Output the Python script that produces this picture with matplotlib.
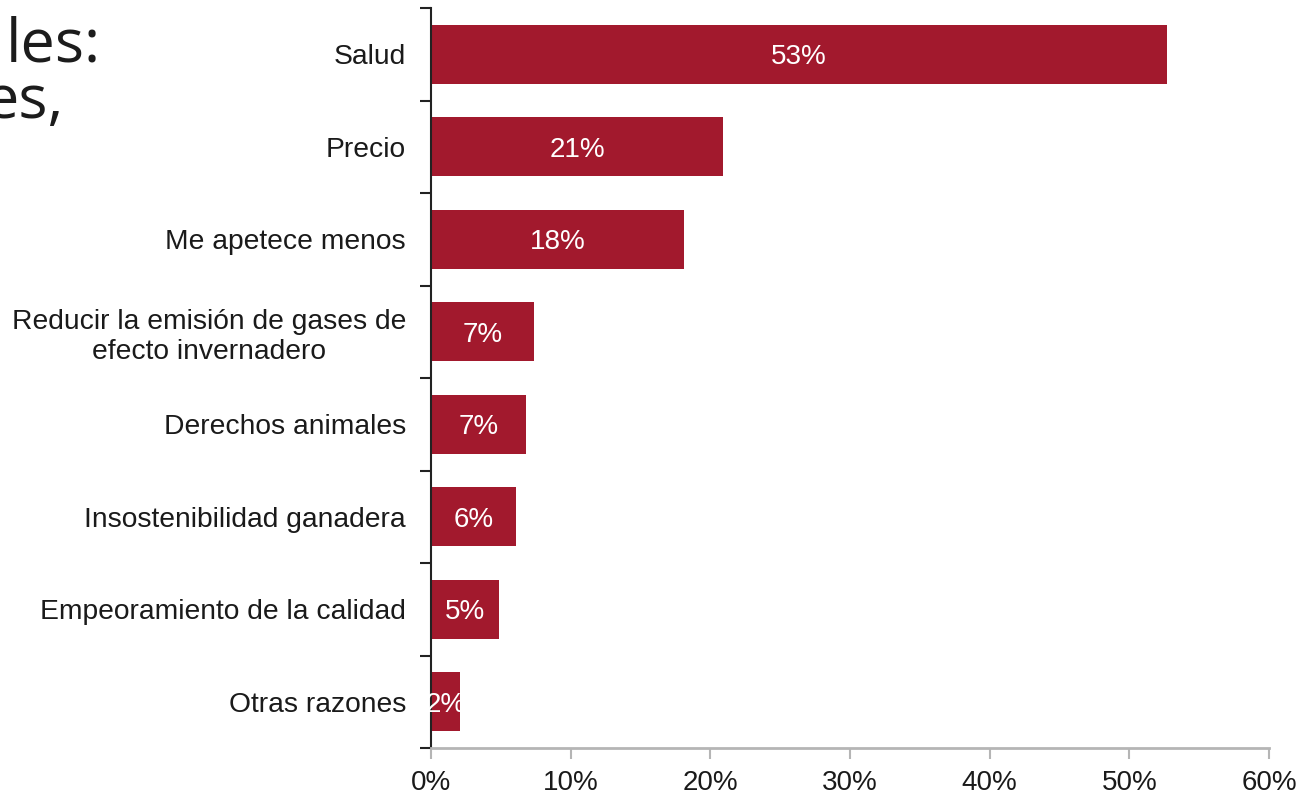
import matplotlib
matplotlib.use("Agg")
import matplotlib.pyplot as plt
import numpy as np

# Reasons for reducing meat consumption (% of respondents)
categories = [
    "Salud",
    "Precio",
    "Me apetece menos",
    "Reducir la emisión de gases de\nefecto invernadero",
    "Derechos animales",
    "Insostenibilidad ganadera",
    "Empeoramiento de la calidad",
    "Otras razones",
]
values = [52.7, 20.9, 18.1, 7.4, 6.8, 6.1, 4.9, 2.1]
x_ticks = [0, 10, 20, 30, 40, 50, 60]
x_tick_labels = ["0%", "10%", "20%", "30%", "40%", "50%", "60%"]
heading_lines = ["les:", "es,"]

BAR_COLOR = "#A2192D"
FONT = ["Liberation Sans", "DejaVu Sans"]

plt.rcParams["font.family"] = FONT

W, H = 1303, 794
fig = plt.figure(figsize=(W / 100, H / 100), dpi=100)
ax = fig.add_axes([431 / W, 1 - 748 / H, (1269 - 431) / W, (748 - 8) / H])

n = len(categories)
pos = np.arange(n)
bars = ax.barh(pos, values, height=0.64, color=BAR_COLOR, zorder=2)

# value labels, centred in each bar and clipped to it
for bar, v in zip(bars, values):
    cx = bar.get_x() + bar.get_width() / 2
    cy = bar.get_y() + bar.get_height() / 2
    t = ax.text(cx, cy, f"{v:.0f}%", ha="center", va="center_baseline",
                color="white", fontsize=20, zorder=3)
    t.set_clip_path(bar)

ax.set_xlim(0, 60)
ax.set_ylim(n - 0.5, -0.5)

# tick marks at category boundaries, names at bar centres
ax.set_yticks(np.arange(-0.5, n, 1.0))
ax.set_yticklabels([])
ax.tick_params(axis="y", which="major", length=8, width=1.5, color="#222222", direction="out")
ax.set_yticks(pos, minor=True)
ax.set_yticklabels(categories, minor=True, fontsize=20.3, color="#1a1a1a")
for lbl in ax.get_yticklabels(minor=True):
    lbl.set_horizontalalignment("right")
    lbl.set_multialignment("center")
ax.tick_params(axis="y", which="minor", length=0, pad=18)

ax.set_xticks(x_ticks)
ax.set_xticklabels(x_tick_labels, fontsize=20, color="#1a1a1a")
ax.tick_params(axis="x", length=8, width=1.5, color="#b5b5b5", direction="out", pad=8)

for side in ("top", "right"):
    ax.spines[side].set_visible(False)
ax.spines["left"].set_color("#222222")
ax.spines["left"].set_linewidth(1.5)
ax.spines["bottom"].set_color("#b5b5b5")
ax.spines["bottom"].set_linewidth(2)

# slide heading partially visible at the top left
fig.text(101 / W, 1 - 62 / H, heading_lines[0], ha="right", va="baseline",
         fontsize=44, color="#1c1c1c", family=["Open Sans", "DejaVu Sans"])
fig.text(64 / W, 1 - 118 / H, heading_lines[1], ha="right", va="baseline",
         fontsize=44, color="#1c1c1c", family=["Open Sans", "DejaVu Sans"])

fig.savefig("out.png", dpi=100, facecolor="white")
